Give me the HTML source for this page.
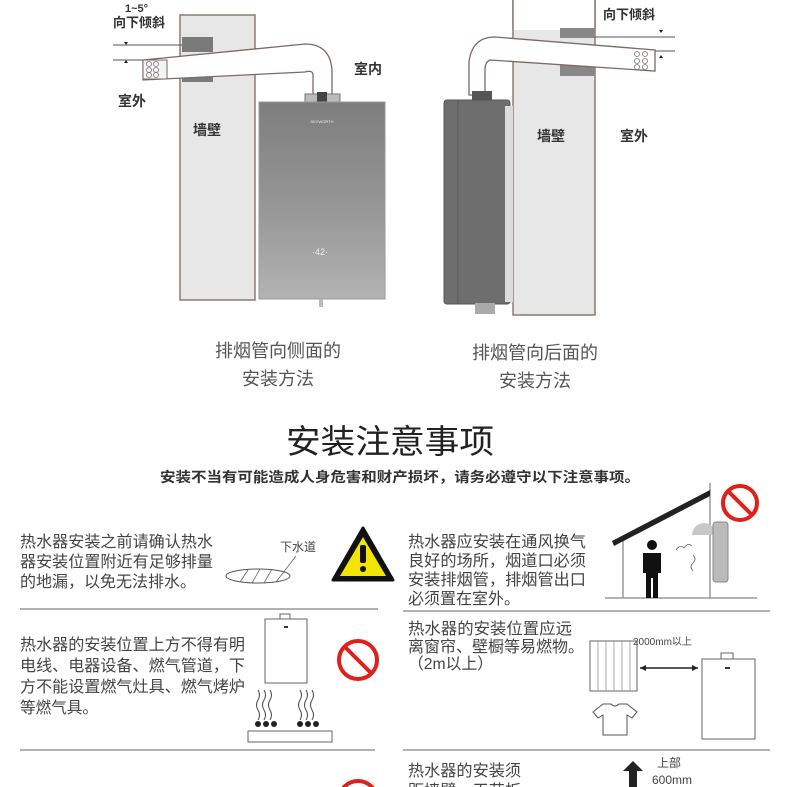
<!DOCTYPE html>
<html><head><meta charset="utf-8"><style>
html,body{margin:0;padding:0;background:#fff;}
svg{display:block;}
text{font-family:"Liberation Sans","Noto Sans CJK SC",sans-serif;}
</style></head><body>
<svg width="790" height="787" viewBox="0 0 790 787" xmlns="http://www.w3.org/2000/svg">
<defs>
<linearGradient id="hg" x1="0" y1="0" x2="0" y2="1"><stop offset="0" stop-color="#7d7d7d"/><stop offset="0.6" stop-color="#9a9a9a"/><stop offset="1" stop-color="#b3b3b3"/></linearGradient>
</defs>
<!-- LEFT DIAGRAM -->
<rect x="180" y="15" width="75" height="285" fill="#e7e7e7" stroke="#8a7b76" stroke-width="1.5"/>
<rect x="182" y="37" width="31" height="15" fill="#7a7a7a"/>
<rect x="182" y="76" width="31" height="6" fill="#7a7a7a"/>
<line x1="113" y1="45" x2="182" y2="45" stroke="#555"/>
<line x1="113" y1="60" x2="182" y2="60" stroke="#555"/>
<polygon points="124,42 128,42 126,45" fill="#222"/>
<polygon points="124,63 128,63 126,60" fill="#222"/>
<path d="M143,60 L305,44 Q330,44 332,70 L332,96 L313,96 L313,74 Q312,70 305,72 L143,80 Z" fill="#fff" stroke="#7a6a66" stroke-width="1.3"/>
<rect x="143" y="60" width="24" height="19" fill="#f4f4f4" stroke="#7a6a66"/>
<g fill="none" stroke="#777" stroke-width="0.8"><circle cx="149" cy="64" r="2.5"/><circle cx="156" cy="64" r="2.5"/><circle cx="149" cy="70" r="2.5"/><circle cx="156" cy="70" r="2.5"/><circle cx="149" cy="75" r="2.5"/><circle cx="156" cy="75" r="2.5"/></g>
<rect x="305" y="94" width="35" height="8" fill="#bbb" stroke="#777"/>
<rect x="317" y="92" width="10" height="10" fill="#444"/>
<rect x="259" y="102" width="126" height="197" fill="url(#hg)" stroke="#999"/>
<text x="322" y="123" font-size="4" fill="#eee" text-anchor="middle">SKYWORTH</text>
<text x="320" y="255" font-size="9" fill="#eee" text-anchor="middle">·42·</text>
<rect x="319" y="299" width="4" height="8" fill="#bbb"/>
<text x="125" y="12" font-size="11" font-weight="bold" fill="#333">1~5°</text>
<text x="113" y="27" font-size="13" font-weight="bold" fill="#333">向下倾斜</text>
<text x="354" y="74" font-size="14" font-weight="bold" fill="#333">室内</text>
<text x="118" y="106" font-size="14" font-weight="bold" fill="#333">室外</text>
<text x="193" y="135" font-size="14" font-weight="bold" fill="#333">墙壁</text>
<text x="278" y="357" font-size="18" fill="#555" text-anchor="middle">排烟管向侧面的</text>
<text x="278" y="385" font-size="18" fill="#555" text-anchor="middle">安装方法</text>
<!-- RIGHT DIAGRAM -->
<rect x="513" y="-2" width="82" height="317" fill="#e7e7e7" stroke="#8a7b76" stroke-width="1.5"/>
<rect x="513" y="0" width="82" height="30" fill="#fff" stroke="none"/>
<line x1="513" y1="0" x2="513" y2="30" stroke="#8a7b76" stroke-width="1.5"/>
<line x1="595" y1="0" x2="595" y2="30" stroke="#8a7b76" stroke-width="1.5"/>
<rect x="560" y="28" width="35" height="10" fill="#888"/>
<rect x="560" y="65" width="35" height="11" fill="#888"/>
<line x1="595" y1="37" x2="675" y2="37" stroke="#555"/>
<line x1="595" y1="51" x2="675" y2="51" stroke="#555"/>
<polygon points="659,30 663,30 661,33" fill="#222"/>
<polygon points="659,58 663,58 661,55" fill="#222"/>
<path d="M495,37 L655,50 L655,71 L490,60 Q485,62 485,70 L485,95 L469,95 L469,62 Q472,37 495,37 Z" fill="#fff" stroke="#7a6a66" stroke-width="1.3"/>
<g fill="none" stroke="#777" stroke-width="0.8"><circle cx="637" cy="54" r="2.5"/><circle cx="645" cy="54" r="2.5"/><circle cx="637" cy="61" r="2.5"/><circle cx="645" cy="61" r="2.5"/><circle cx="637" cy="67" r="2.5"/><circle cx="645" cy="67" r="2.5"/></g>
<rect x="472" y="91" width="20" height="10" fill="#555"/>
<rect x="444" y="100" width="66" height="204" rx="3" fill="#6e6e6e" stroke="#555"/>
<line x1="458" y1="100" x2="458" y2="304" stroke="#5a5a5a"/>
<rect x="505" y="106" width="8" height="196" fill="#dcdcdc"/>
<rect x="475" y="303" width="20" height="11" fill="#aaa"/>
<text x="603" y="19" font-size="13" font-weight="bold" fill="#333">向下倾斜</text>
<text x="537" y="141" font-size="14" font-weight="bold" fill="#333">墙壁</text>
<text x="620" y="141" font-size="14" font-weight="bold" fill="#333">室外</text>
<text x="535" y="359" font-size="18" fill="#555" text-anchor="middle">排烟管向后面的</text>
<text x="535" y="387" font-size="18" fill="#555" text-anchor="middle">安装方法</text>
<!-- TITLE -->
<text x="286" y="453" font-size="33" fill="#222" textLength="208" lengthAdjust="spacingAndGlyphs">安装注意事项</text>
<text x="160" y="482" font-size="14" font-weight="bold" fill="#333" textLength="480" lengthAdjust="spacingAndGlyphs">安装不当有可能造成人身危害和财产损坏，请务必遵守以下注意事项。</text>
<!-- LEFT BLOCK 1 -->
<g font-size="16" fill="#444">
<text x="20" y="547" textLength="193" lengthAdjust="spacingAndGlyphs">热水器安装之前请确认热水</text>
<text x="20" y="567" textLength="193" lengthAdjust="spacingAndGlyphs">器安装位置附近有足够排量</text>
<text x="20" y="587" textLength="176" lengthAdjust="spacingAndGlyphs">的地漏，以免无法排水。</text>
</g>
<ellipse cx="258" cy="576" rx="32" ry="7" fill="none" stroke="#555"/>
<g stroke="#666" stroke-width="0.8"><line x1="240" y1="582" x2="248" y2="570"/><line x1="252" y1="583" x2="260" y2="569"/><line x1="264" y1="583" x2="272" y2="569"/><line x1="276" y1="582" x2="296" y2="556"/></g>
<text x="280" y="551" font-size="12" fill="#444">下水道</text>
<polygon points="363,528 393,580 333,580" fill="#111" stroke="#111" stroke-width="3" stroke-linejoin="round"/>
<polygon points="363,537 386,576 340,576" fill="#f2e600"/>
<rect x="360" y="545" width="6" height="18" rx="2" fill="#111"/>
<circle cx="363" cy="569" r="3" fill="#111"/>
<line x1="20" y1="609" x2="378" y2="609" stroke="#999" stroke-width="1.5"/>
<!-- LEFT BLOCK 2 -->
<g font-size="16" fill="#444">
<text x="20" y="650" textLength="225" lengthAdjust="spacingAndGlyphs">热水器的安装位置上方不得有明</text>
<text x="20" y="671" textLength="225" lengthAdjust="spacingAndGlyphs">电线、电器设备、燃气管道，下</text>
<text x="20" y="692" textLength="225" lengthAdjust="spacingAndGlyphs">方不能设置燃气灶具、燃气烤炉</text>
<text x="20" y="713" textLength="78" lengthAdjust="spacingAndGlyphs">等燃气具。</text>
</g>
<rect x="265" y="619" width="42" height="64" fill="#fff" stroke="#666"/>
<rect x="280" y="614" width="10" height="5" fill="#fff" stroke="#666"/>
<rect x="284" y="626" width="4" height="2" fill="#333"/>
<g fill="none" stroke="#444" stroke-width="1"><path d="M258,690 q3,5 0,10 q-3,5 0,10 q3,5 0,10"/><path d="M264,690 q3,5 0,10 q-3,5 0,10 q3,5 0,10"/><path d="M270,690 q3,5 0,10 q-3,5 0,10 q3,5 0,10"/><path d="M300,690 q3,5 0,10 q-3,5 0,10 q3,5 0,10"/><path d="M306,690 q3,5 0,10 q-3,5 0,10 q3,5 0,10"/><path d="M312,690 q3,5 0,10 q-3,5 0,10 q3,5 0,10"/></g>
<g fill="#222"><circle cx="258" cy="724" r="3"/><circle cx="266" cy="724" r="3"/><circle cx="274" cy="724" r="3"/><circle cx="300" cy="724" r="3"/><circle cx="308" cy="724" r="3"/><circle cx="316" cy="724" r="3"/></g>
<rect x="248" y="731" width="84" height="11" fill="#fff" stroke="#666"/>
<circle cx="358" cy="660" r="19" fill="none" stroke="#e0201a" stroke-width="4"/>
<line x1="345" y1="647" x2="371" y2="673" stroke="#e0201a" stroke-width="4"/>
<line x1="20" y1="750" x2="375" y2="750" stroke="#999" stroke-width="1.5"/>
<circle cx="358" cy="800" r="19" fill="none" stroke="#e0201a" stroke-width="4"/>
<line x1="345" y1="787" x2="371" y2="813" stroke="#e0201a" stroke-width="4"/>
<!-- RIGHT BLOCK 1 -->
<g font-size="16" fill="#444">
<text x="408" y="547" textLength="178" lengthAdjust="spacingAndGlyphs">热水器应安装在通风换气</text>
<text x="408" y="566" textLength="178" lengthAdjust="spacingAndGlyphs">良好的场所，烟道口必须</text>
<text x="408" y="585" textLength="178" lengthAdjust="spacingAndGlyphs">安装排烟管，排烟管出口</text>
<text x="408" y="604" textLength="112" lengthAdjust="spacingAndGlyphs">必须置在室外。</text>
</g>
<line x1="605" y1="598" x2="757" y2="598" stroke="#999" stroke-width="1.5"/>
<line x1="623" y1="540" x2="623" y2="598" stroke="#999" stroke-width="1.5"/>
<line x1="710" y1="483" x2="710" y2="598" stroke="#999" stroke-width="1.5"/>
<polygon points="612,541 710,490 710,496 614,546" fill="#222"/>
<circle cx="652" cy="545" r="5" fill="#111"/>
<path d="M643,553 h18 v20 h-3 v25 h-5 v-20 h-2 v20 h-5 v-25 h-3 z" fill="#111"/>
<path d="M692,535 a12,12 0 0 1 24,0 z" fill="#c8c8c8"/>
<rect x="713" y="522" width="15" height="60" rx="3" fill="#bbb" stroke="#888"/>
<g fill="none" stroke="#666" stroke-width="0.8"><path d="M676,550 q4,-6 8,-2 q4,-6 8,-2"/><path d="M693,555 q4,4 0,8 q-4,4 0,8"/></g>
<circle cx="740" cy="503" r="17" fill="none" stroke="#e0201a" stroke-width="4"/>
<line x1="728" y1="491" x2="752" y2="515" stroke="#e0201a" stroke-width="4"/>
<line x1="403" y1="611" x2="770" y2="611" stroke="#999" stroke-width="1.5"/>
<!-- RIGHT BLOCK 2 -->
<g font-size="16" fill="#444">
<text x="408" y="634" textLength="164" lengthAdjust="spacingAndGlyphs">热水器的安装位置应远</text>
<text x="408" y="652" textLength="176" lengthAdjust="spacingAndGlyphs">离窗帘、壁橱等易燃物。</text>
<text x="408" y="669" textLength="85" lengthAdjust="spacingAndGlyphs">（2m以上）</text>
</g>
<rect x="590" y="641" width="47" height="50" fill="#fff" stroke="#666"/>
<g stroke="#888" stroke-width="0.7"><line x1="598" y1="641" x2="598" y2="691"/><line x1="606" y1="641" x2="606" y2="691"/><line x1="614" y1="641" x2="614" y2="691"/><line x1="622" y1="641" x2="622" y2="691"/><line x1="630" y1="641" x2="630" y2="691"/></g>
<line x1="640" y1="668" x2="698" y2="668" stroke="#222" stroke-width="1.5"/>
<polygon points="640,668 646,665 646,671" fill="#222"/>
<polygon points="698,668 692,665 692,671" fill="#222"/>
<text x="633" y="645" font-size="10" fill="#444">2000mm以上</text>
<rect x="702" y="659" width="53" height="80" fill="#fff" stroke="#666"/>
<rect x="721" y="653" width="12" height="6" fill="#fff" stroke="#666"/>
<rect x="725" y="667" width="5" height="2" fill="#333"/>
<path d="M593,712 l10,-8 h8 q4,4 8,0 h8 l10,8 l-5,6 l-5,-3 v20 h-24 v-20 l-5,3 z" fill="#fff" stroke="#555"/>
<line x1="403" y1="750" x2="770" y2="750" stroke="#999" stroke-width="1.5"/>
<!-- RIGHT BLOCK 3 -->
<g font-size="16" fill="#444">
<text x="408" y="776" textLength="113" lengthAdjust="spacingAndGlyphs">热水器的安装须</text>
<text x="408" y="796" textLength="113" lengthAdjust="spacingAndGlyphs">距墙壁、天花板</text>
</g>
<polygon points="633,761 643,771 637,771 637,787 629,787 629,771 623,771" fill="#222"/>
<text x="657" y="767" font-size="12" fill="#444">上部</text>
<text x="652" y="784" font-size="12" fill="#444">600mm</text>
</svg>
</body></html>
